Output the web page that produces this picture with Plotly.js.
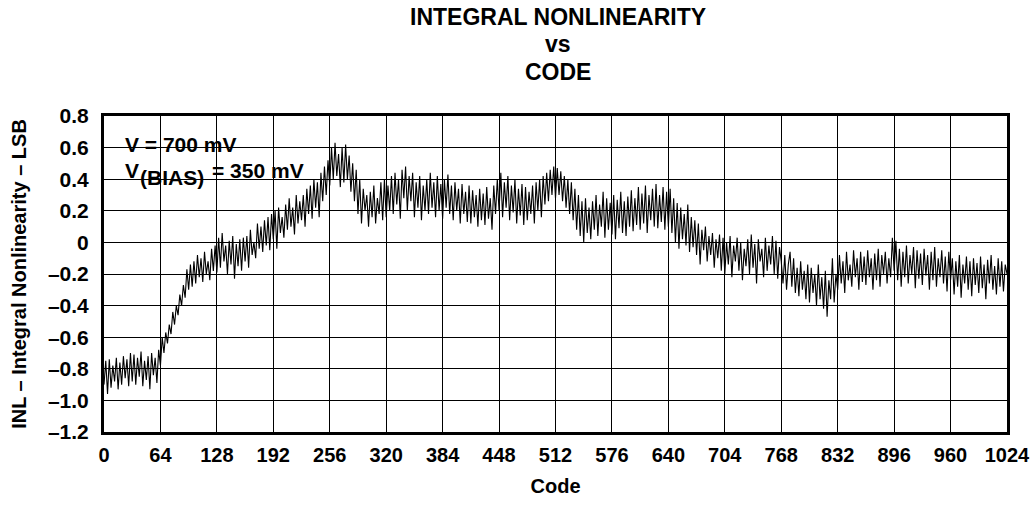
<!DOCTYPE html>
<html>
<head>
<meta charset="utf-8">
<script src="https://cdn.plot.ly/plotly-3.0.1.min.js"></script>
<style>
  html, body { margin: 0; padding: 0; background: #ffffff; }
  #chart { width: 1032px; height: 508px; }
</style>
</head>
<body>
<div id="chart"></div>
<script>
const codeStart = 0;
const codeStep = 2;
const inl = [
  -0.90, -0.75, -0.96, -0.74, -0.92, -0.78, -0.88, -0.73, -0.93, -0.76, -0.90, -0.72, -0.86, -0.74, -0.91, -0.70,
  -0.88, -0.71, -0.90, -0.73, -0.85, -0.69, -0.91, -0.75, -0.87, -0.72, -0.93, -0.70, -0.84, -0.73, -0.89, -0.68,
  -0.78, -0.60, -0.70, -0.57, -0.64, -0.52, -0.58, -0.44, -0.52, -0.40, -0.46, -0.33, -0.40, -0.27, -0.35, -0.17,
  -0.30, -0.14, -0.28, -0.12, -0.26, -0.08, -0.22, -0.10, -0.25, -0.06, -0.20, -0.12, -0.24, -0.04, -0.18, -0.02,
  -0.19, 0.03, -0.16, 0.06, -0.12, -0.02, -0.20, 0.01, -0.14, 0.04, -0.23, -0.01, -0.15, 0.02, -0.18, 0.03,
  -0.12, 0.04, -0.16, 0.08, -0.08, 0.00, -0.10, 0.12, -0.04, 0.10, -0.06, 0.14, -0.02, 0.16, -0.05, 0.18,
  0.02, 0.20, -0.04, 0.22, 0.06, 0.16, 0.03, 0.24, 0.08, 0.28, 0.10, 0.22, 0.05, 0.30, 0.12, 0.26,
  0.14, 0.30, 0.10, 0.34, 0.18, 0.36, 0.15, 0.40, 0.22, 0.38, 0.16, 0.44, 0.26, 0.48, 0.30, 0.52,
  0.36, 0.60, 0.40, 0.63, 0.42, 0.56, 0.35, 0.60, 0.38, 0.62, 0.40, 0.55, 0.32, 0.50, 0.26, 0.46,
  0.18, 0.40, 0.12, 0.34, 0.20, 0.30, 0.10, 0.32, 0.16, 0.36, 0.12, 0.28, 0.18, 0.38, 0.14, 0.40,
  0.16, 0.36, 0.20, 0.42, 0.18, 0.44, 0.24, 0.40, 0.15, 0.46, 0.28, 0.48, 0.20, 0.42, 0.26, 0.44,
  0.16, 0.38, 0.22, 0.42, 0.14, 0.36, 0.20, 0.40, 0.18, 0.44, 0.22, 0.38, 0.16, 0.42, 0.20, 0.37,
  0.15, 0.40, 0.22, 0.43, 0.18, 0.36, 0.14, 0.38, 0.20, 0.34, 0.12, 0.37, 0.18, 0.32, 0.13, 0.36,
  0.12, 0.33, 0.16, 0.30, 0.10, 0.34, 0.14, 0.31, 0.11, 0.35, 0.15, 0.28, 0.08, 0.36, 0.18, 0.40,
  0.20, 0.44, 0.16, 0.38, 0.22, 0.42, 0.14, 0.36, 0.19, 0.40, 0.12, 0.34, 0.17, 0.37, 0.11, 0.35,
  0.14, 0.32, 0.18, 0.36, 0.12, 0.38, 0.20, 0.40, 0.16, 0.42, 0.24, 0.44, 0.26, 0.46, 0.30, 0.48,
  0.28, 0.47, 0.30, 0.45, 0.26, 0.42, 0.22, 0.40, 0.18, 0.38, 0.14, 0.34, 0.08, 0.30, 0.04, 0.26,
  0.00, 0.28, 0.06, 0.22, 0.02, 0.26, 0.08, 0.30, 0.04, 0.24, 0.10, 0.32, 0.03, 0.28, 0.08, 0.25,
  0.05, 0.30, 0.02, 0.27, 0.09, 0.32, 0.06, 0.26, 0.04, 0.29, 0.10, 0.33, 0.07, 0.28, 0.11, 0.35,
  0.08, 0.31, 0.12, 0.36, 0.06, 0.30, 0.14, 0.34, 0.10, 0.37, 0.09, 0.30, 0.13, 0.35, 0.08, 0.32,
  0.10, 0.34, 0.06, 0.28, 0.00, 0.25, -0.04, 0.22, 0.02, 0.18, -0.02, 0.24, -0.06, 0.16, -0.03, 0.14,
  -0.08, 0.12, -0.14, 0.08, -0.05, 0.10, -0.12, 0.04, -0.08, 0.06, -0.16, 0.02, -0.10, 0.05, -0.18, 0.03,
  -0.20, 0.00, -0.14, 0.04, -0.22, -0.02, -0.12, 0.03, -0.18, 0.00, -0.24, -0.04, -0.15, 0.02, -0.20, 0.05,
  -0.16, -0.01, -0.26, 0.02, -0.12, -0.04, -0.22, 0.03, -0.18, -0.02, -0.14, 0.04, -0.20, 0.01, -0.23, -0.03,
  -0.12, -0.26, -0.08, -0.30, -0.14, -0.06, -0.28, -0.10, -0.32, -0.16, -0.34, -0.12, -0.30, -0.18, -0.36, -0.14,
  -0.38, -0.16, -0.32, -0.20, -0.40, -0.14, -0.36, -0.22, -0.42, -0.18, -0.47, -0.24, -0.36, -0.10, -0.38, -0.20,
  -0.30, -0.08, -0.26, -0.12, -0.32, -0.06, -0.24, -0.14, -0.28, -0.05, -0.22, -0.10, -0.30, -0.06, -0.25, -0.09,
  -0.27, -0.05, -0.22, -0.10, -0.30, -0.07, -0.24, -0.04, -0.28, -0.08, -0.20, -0.06, -0.26, -0.10, -0.22, 0.03,
  -0.18, 0.01, -0.24, -0.04, -0.28, -0.06, -0.22, -0.02, -0.26, -0.08, -0.20, -0.03, -0.29, -0.05, -0.23, -0.07,
  -0.27, -0.04, -0.21, -0.08, -0.30, -0.06, -0.24, -0.03, -0.28, -0.10, -0.22, -0.05, -0.26, -0.09, -0.31, -0.06,
  -0.24, -0.10, -0.33, -0.12, -0.28, -0.08, -0.35, -0.14, -0.26, -0.09, -0.30, -0.12, -0.34, -0.10, -0.27, -0.13,
  -0.32, -0.09, -0.29, -0.14, -0.36, -0.11, -0.26, -0.08, -0.30, -0.15, -0.33, -0.10, -0.28, -0.12, -0.31, -0.14,
  -0.20
];

const xTickVals = [0, 64, 128, 192, 256, 320, 384, 448, 512, 576, 640, 704, 768, 832, 896, 960, 1024];
const xTickText = ['0', '64', '128', '192', '256', '320', '384', '448', '512', '576', '640', '704', '768', '832', '896', '960', '1024'];
const yTickVals = [0.8, 0.6, 0.4, 0.2, 0, -0.2, -0.4, -0.6, -0.8, -1.0, -1.2];
const yTickText = ['0.8', '0.6', '0.4', '0.2', '0', '\u20130.2', '\u20130.4', '\u20130.6', '\u20130.8', '\u20131.0', '\u20131.2'];

const titleLines = ['INTEGRAL NONLINEARITY', 'vs', 'CODE'];
const xTitle = 'Code';
const yTitle = 'INL \u2013 Integral Nonlinearity \u2013 LSB';

const FONT = 'Liberation Sans, Arial, Helvetica, sans-serif';

const trace = {
  type: 'scatter',
  mode: 'lines',
  x0: codeStart,
  dx: codeStep,
  y: inl,
  line: { color: '#000000', width: 1.1 },
  hoverinfo: 'skip',
  showlegend: false
};

const titleY = [1.313, 1.228, 1.139];
const annotations = titleLines.map((t, i) => ({
  text: '<b>' + t + '</b>',
  xref: 'paper', yref: 'paper',
  x: 0.503, y: titleY[i],
  xanchor: 'center', yanchor: 'middle',
  showarrow: false,
  font: { family: FONT, size: 23, color: '#000000' }
}));

annotations.push(
  { text: '<b>V = 700 mV</b>', xref: 'paper', yref: 'paper', x: 0.021, y: 0.911,
    xanchor: 'left', yanchor: 'middle', showarrow: false,
    font: { family: FONT, size: 21, color: '#000' } },
  { text: '<b>V</b>', xref: 'paper', yref: 'paper', x: 0.021, y: 0.826,
    xanchor: 'left', yanchor: 'middle', showarrow: false,
    font: { family: FONT, size: 21, color: '#000' } },
  { text: '<b>(BIAS)</b>', xref: 'paper', yref: 'paper', x: 0.0375, y: 0.806,
    xanchor: 'left', yanchor: 'middle', showarrow: false,
    font: { family: FONT, size: 21, color: '#000' } },
  { text: '<b>= 350 mV</b>', xref: 'paper', yref: 'paper', x: 0.1175, y: 0.826,
    xanchor: 'left', yanchor: 'middle', showarrow: false,
    font: { family: FONT, size: 21, color: '#000' } }
);

const layout = {
  width: 1032,
  height: 508,
  margin: { l: 104, r: 25, t: 116, b: 76, pad: 0 },
  paper_bgcolor: '#ffffff',
  plot_bgcolor: '#ffffff',
  font: { family: FONT, size: 20, color: '#000000' },
  showlegend: false,
  xaxis: {
    range: [0, 1024],
    tickvals: xTickVals,
    ticktext: xTickText,
    tickfont: { family: FONT, size: 20, color: '#000', weight: 'bold' },
    showgrid: true, gridcolor: '#000000', gridwidth: 1,
    zeroline: false,
    showline: true, linecolor: '#000000', linewidth: 3, mirror: true,
    ticks: '',
    ticklabelstandoff: 3,
    title: { text: '<b>' + xTitle + '</b>', font: { family: FONT, size: 20, color: '#000' }, standoff: 14 },
    automargin: false,
    fixedrange: true
  },
  yaxis: {
    range: [-1.2, 0.8],
    tickvals: yTickVals,
    ticktext: yTickText,
    tickfont: { family: FONT, size: 21, color: '#000', weight: 'bold' },
    showgrid: true, gridcolor: '#000000', gridwidth: 1,
    zeroline: false,
    showline: true, linecolor: '#000000', linewidth: 3, mirror: true,
    ticks: '',
    ticklabelstandoff: 8,
    title: { text: '<b>' + yTitle + '</b>', font: { family: FONT, size: 20, color: '#000' }, standoff: 16 },
    automargin: false,
    fixedrange: true
  },
  annotations: annotations
};

Plotly.newPlot('chart', [trace], layout, { displayModeBar: false, staticPlot: true });
</script>
</body>
</html>
